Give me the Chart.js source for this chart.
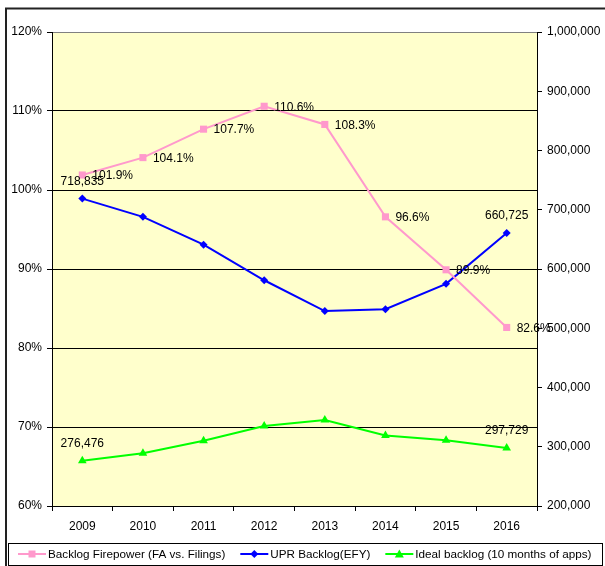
<!DOCTYPE html>
<html>
<head>
<meta charset="utf-8">
<script src="https://cdn.jsdelivr.net/npm/chart.js@4/dist/chart.umd.min.js"></script>
<style>
  html, body { margin: 0; padding: 0; background: #fff; }
  #wrap { width: 605px; height: 566px; position: relative; }
</style>
</head>
<body>
<div id="wrap"><canvas id="chart" width="605" height="566"></canvas></div>
<script>
// --- data ---
const years = ['2009', '2010', '2011', '2012', '2013', '2014', '2015', '2016'];
const firepowerPct = [101.9, 104.1, 107.7, 110.6, 108.3, 96.6, 89.9, 82.6];
const uprBacklog = [718835, 688000, 641000, 581000, 529000, 532000, 575000, 660725];
const idealBacklog = [276476, 289000, 310000, 335000, 345000, 319000, 311000, 297729];
const pctTicks = [60, 70, 80, 90, 100, 110, 120];
const countTicks = [200000, 300000, 400000, 500000, 600000, 700000, 800000, 900000, 1000000];

const FONT = '"Liberation Sans", Arial, sans-serif';
const PINK = '#ff99cc';
const BLUE = '#0000ff';
const GREEN = '#00ff00';

const fmtNum = v => Math.round(v).toLocaleString('en-US');

// which points carry a label (index list per dataset)
const labelIdx = [
    [0, 1, 2, 3, 4, 5, 6, 7],
    [0, 7],
    [0, 7]
];

function drawMarker(ctx, style, x, y, color) {
    ctx.save();
    ctx.fillStyle = color;
    ctx.beginPath();
    if (style === 'rect') {
        ctx.rect(x - 3.5, y - 3.5, 7, 7);
    } else if (style === 'rectRot') {
        ctx.moveTo(x, y - 4); ctx.lineTo(x + 4, y); ctx.lineTo(x, y + 4); ctx.lineTo(x - 4, y);
        ctx.closePath();
    } else {
        ctx.moveTo(x, y - 4.5); ctx.lineTo(x + 4.5, y + 3.5); ctx.lineTo(x - 4.5, y + 3.5);
        ctx.closePath();
    }
    ctx.fill();
    ctx.restore();
}

const framePlugin = {
    id: 'frame',
    beforeDraw(chart) {
        const { ctx, chartArea: a } = chart;
        ctx.save();
        ctx.fillStyle = '#ffffff';
        ctx.fillRect(0, 0, chart.width, chart.height);
        ctx.fillStyle = '#ffffcc';
        ctx.fillRect(a.left, a.top, a.right - a.left, a.bottom - a.top);
        // outer chart border
        ctx.strokeStyle = '#222';
        ctx.lineWidth = 2;
        ctx.beginPath();
        ctx.moveTo(6, chart.height + 2);
        ctx.lineTo(6, 8.5);
        ctx.lineTo(chart.width + 2, 8.5);
        ctx.stroke();
        ctx.restore();
    },
    afterDraw(chart) {
        // legend box at the bottom
        const ctx = chart.ctx;
        const top = 543, bottom = 565, mid = 554;
        ctx.save();
        ctx.strokeStyle = '#000';
        ctx.lineWidth = 1;
        ctx.strokeRect(8.5, top + 0.5, 594, bottom - top);
        ctx.font = '11.7px ' + FONT;
        ctx.textBaseline = 'middle';
        ctx.textAlign = 'left';
        let x = 18;
        chart.data.datasets.forEach(ds => {
            ctx.strokeStyle = ds.borderColor;
            ctx.lineWidth = 2;
            ctx.beginPath();
            ctx.moveTo(x, mid);
            ctx.lineTo(x + 28, mid);
            ctx.stroke();
            drawMarker(ctx, ds.pointStyle, x + 14, mid, ds.borderColor);
            ctx.fillStyle = '#000';
            ctx.fillText(ds.label, x + 30, mid + 1);
            x += 30 + ctx.measureText(ds.label).width + 15;
        });
        ctx.restore();
    },
    afterDatasetsDraw(chart) {
        const ctx = chart.ctx;
        ctx.save();
        ctx.font = '12px ' + FONT;
        ctx.fillStyle = '#000';
        ctx.textBaseline = 'middle';
        chart.data.datasets.forEach((ds, di) => {
            const meta = chart.getDatasetMeta(di);
            labelIdx[di].forEach(i => {
                const pt = meta.data[i];
                const v = ds.data[i];
                if (di === 0) {
                    ctx.textAlign = 'left';
                    ctx.fillText(v.toFixed(1) + '%', pt.x + 10, pt.y + 1);
                } else {
                    ctx.textAlign = 'center';
                    ctx.fillText(fmtNum(v), pt.x, pt.y - 17);
                }
            });
        });
        ctx.restore();
    }
};

const ctx = document.getElementById('chart').getContext('2d');
new Chart(ctx, {
    type: 'line',
    data: {
        labels: years,
        datasets: [{
            label: 'Backlog Firepower (FA vs. Filings)',
            data: firepowerPct,
            yAxisID: 'yPct',
            borderColor: PINK,
            backgroundColor: PINK,
            borderWidth: 2,
            pointStyle: 'rect',
            pointRadius: 5,
            pointBorderWidth: 0
        }, {
            label: 'UPR Backlog(EFY)',
            data: uprBacklog,
            yAxisID: 'yCount',
            borderColor: BLUE,
            backgroundColor: BLUE,
            borderWidth: 2,
            pointStyle: 'rectRot',
            pointRadius: 4,
            pointBorderWidth: 0
        }, {
            label: 'Ideal backlog (10 months of apps)',
            data: idealBacklog,
            yAxisID: 'yCount',
            borderColor: GREEN,
            backgroundColor: GREEN,
            borderWidth: 2,
            pointStyle: 'triangle',
            pointRadius: 5,
            pointBorderWidth: 0
        }]
    },
    options: {
        responsive: false,
        animation: false,
        events: [],
        layout: { padding: { left: 0, right: 0, top: 32, bottom: 23 } },
        plugins: {
            legend: { display: false },
            tooltip: { enabled: false }
        },
        elements: { line: { tension: 0 } },
        scales: {
            x: {
                offset: true,
                grid: {
                    offset: true,
                    drawOnChartArea: false,
                    tickLength: 5,
                    tickColor: '#000',
                    color: '#000'
                },
                border: { color: '#000', width: 1 },
                ticks: { color: '#000', font: { family: FONT, size: 12 }, padding: 8, maxRotation: 0 },
                afterFit: s => { s.height = 37; }
            },
            yPct: {
                position: 'left',
                min: pctTicks[0],
                max: pctTicks[pctTicks.length - 1],
                afterBuildTicks: s => { s.ticks = pctTicks.map(v => ({ value: v })); },
                grid: {
                    color: c => (c.tick && c.tick.value === 120) ? '#808080' : '#000',
                    tickColor: '#000',
                    tickLength: 5,
                    lineWidth: 1
                },
                border: { color: '#000', width: 1 },
                ticks: {
                    color: '#000',
                    font: { family: FONT, size: 12 },
                    padding: 5,
                    callback: v => v + '%'
                },
                afterFit: s => { s.width = 52; }
            },
            yCount: {
                position: 'right',
                min: countTicks[0],
                max: countTicks[countTicks.length - 1],
                afterBuildTicks: s => { s.ticks = countTicks.map(v => ({ value: v })); },
                grid: {
                    drawOnChartArea: false,
                    tickColor: '#000',
                    tickLength: 5
                },
                border: { color: '#000', width: 1 },
                ticks: {
                    color: '#000',
                    font: { family: FONT, size: 12 },
                    padding: 5,
                    callback: v => fmtNum(v)
                },
                afterFit: s => { s.width = 68; }
            }
        }
    },
    plugins: [framePlugin]
});
</script>
</body>
</html>
